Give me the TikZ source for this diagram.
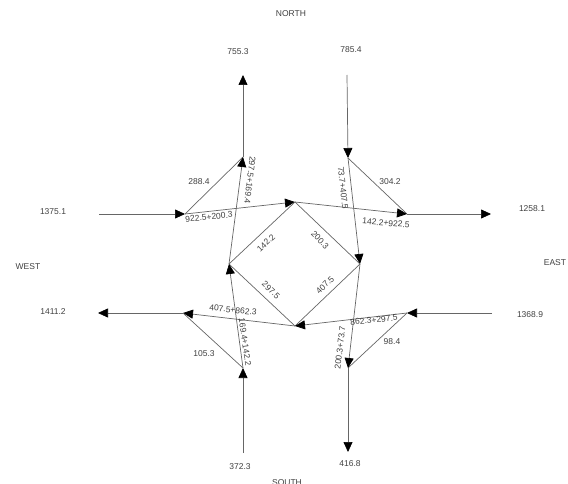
\documentclass[tikz,border=0pt]{standalone}
\usepackage{fontspec}
\setmainfont{Liberation Sans}
\usetikzlibrary{arrows.meta}

\begin{document}
\begin{tikzpicture}[x=1pt,y=-1pt,>={Triangle[length=10pt,width=9pt,color=black]},flow/.style={draw=black!60,line width=0.7pt},main flow/.style={flow,->},vol/.style={font=\fontsize{8.5}{10}\selectfont,text=black!75,inner sep=1pt}]

	\useasboundingbox (0,0) rectangle (568,484);

	%ends of the four approaches and the points where the flows split
	\begin{scope}
		\coordinate (wi) at (99,214);
		\coordinate (A) at (185,214);
		\coordinate (wo) at (98,313);
		\coordinate (L) at (183,313);
		\coordinate (no) at (243,75);
		\coordinate (B) at (243,157);
		\coordinate (ni) at (347,75);
		\coordinate (E) at (348,158);
		\coordinate (C) at (295,202);
		\coordinate (F) at (407,214);
		\coordinate (eo) at (491,214);
		\coordinate (ei) at (492,313);
		\coordinate (K) at (407,313);
		\coordinate (G) at (360,264);
		\coordinate (D) at (229,264);
		\coordinate (I) at (295,326);
		\coordinate (si) at (243,453);
		\coordinate (H) at (243,368);
		\coordinate (J) at (348,368);
		\coordinate (so) at (348,452);
	\end{scope}

	%directions and the totals at each approach
	\begin{scope}
		\node[vol] (north) at (291,14) {NORTH};
		\node[vol] (south) at (287,483) {SOUTH};
		\node[vol] (west) at (28,267) {WEST};
		\node[vol] (east) at (555,263) {EAST};
		\node[vol] (n-out) at (238,52) {755.3};
		\node[vol] (n-in) at (351,50) {785.4};
		\node[vol] (w-in) at (53,212) {1375.1};
		\node[vol] (w-out) at (53,312) {1411.2};
		\node[vol] (e-out) at (532,209) {1258.1};
		\node[vol] (e-in) at (530,315) {1368.9};
		\node[vol] (s-in) at (240,467) {372.3};
		\node[vol] (s-out) at (350,464) {416.8};
	\end{scope}

	%approach and exit arms
	\begin{scope}
		\draw[main flow] (wi) -- (A);
		\draw[main flow] (L) -- (wo);
		\draw[main flow] (B) -- (no);
		\draw[main flow] (ni) -- (E);
		\draw[main flow] (F) -- (eo);
		\draw[main flow] (ei) -- (K);
		\draw[main flow] (si) -- (H);
		\draw[main flow] (J) -- (so);
	\end{scope}

	%flows inside the junction
	\begin{scope}
		\draw[main flow] (A) -- (C);
		\draw[flow] (A) -- (B);
		\draw[main flow] (D) -- (B);
		\draw[flow] (E) -- (F);
		\draw[main flow] (E) -- (G);
		\draw[main flow] (C) -- (F);
		\draw[flow] (C) -- (D);
		\draw[flow] (C) -- (G);
		\draw[flow] (G) -- (I);
		\draw[flow] (D) -- (I);
		\draw[main flow] (K) -- (I);
		\draw[flow] (K) -- (J);
		\draw[main flow] (G) -- (J);
		\draw[main flow] (I) -- (L);
		\draw[flow] (L) -- (H);
		\draw[main flow] (H) -- (D);
	\end{scope}

	%volumes carried by each flow
	\begin{scope}
		\node[vol, rotate=6] (v-ac) at (209,217) {922.5+200.3};
		\node[vol] (v-ab) at (199,182) {288.4};
		\node[vol, rotate=-97] (v-db) at (250,180) {297.5+169.4};
		\node[vol] (v-ef) at (390,182) {304.2};
		\node[vol, rotate=-84] (v-eg) at (343,188) {73.7+407.5};
		\node[vol, rotate=-5] (v-cf) at (386,223) {142.2+922.5};
		\node[vol, rotate=44] (v-cd) at (266,243) {142.2};
		\node[vol, rotate=-46] (v-cg) at (320,240) {200.3};
		\node[vol, rotate=-44] (v-di) at (271,290) {297.5};
		\node[vol, rotate=44] (v-gi) at (325,285) {407.5};
		\node[vol, rotate=-6] (v-il) at (233,310) {407.5+862.3};
		\node[vol, rotate=6] (v-ki) at (374,320) {862.3+297.5};
		\node[vol] (v-kj) at (392,342) {98.4};
		\node[vol, rotate=83] (v-gj) at (340,348) {200.3+73.7};
		\node[vol] (v-lh) at (204,354) {105.3};
		\node[vol, rotate=-82] (v-hd) at (245,342) {169.4+142.2};
	\end{scope}
\end{tikzpicture}
\end{document}
